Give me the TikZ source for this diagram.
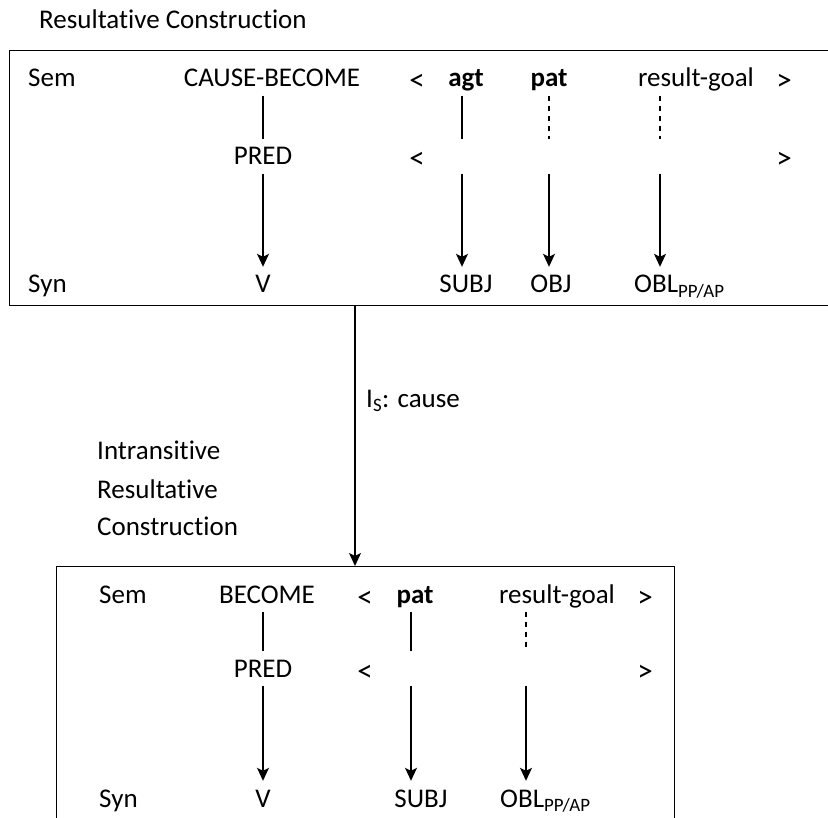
\documentclass[tikz,border=0pt]{standalone}
\usepackage{fontspec}
\setmainfont{Carlito}[Ligatures=NoCommon]
\usepackage{tikz}
\usetikzlibrary{arrows.meta}

\begin{document}
\begin{tikzpicture}[x=1pt,y=-1pt]
	\tikzstyle{every node}=[font=\fontsize{27}{32}\selectfont]
	\tikzstyle{txt}=[anchor=base, inner xsep=1pt, inner ysep=4pt, text height=22pt, text depth=4.5pt]
	\tikzstyle{brk}=[txt, font=\fontsize{31}{36}\selectfont]
	\tikzstyle{box}=[draw, line width=1.4pt, inner sep=0pt, anchor=north west]
	\tikzstyle{link}=[line width=1.3pt]
	\tikzstyle{dsh}=[line width=1.3pt, dash pattern=on 5pt off 5pt]
	\tikzstyle{arr}=[line width=1.3pt, -{Stealth[length=13pt,width=12pt,inset=3pt]}]
	
	\clip (0,0) rectangle (828,818);
	
	\node[txt, anchor=base west] (title) at (38,29) {Resultative Construction};
	
	% upper construction
	\node[box, minimum width=826pt, minimum height=255pt] (box1) at (9,50) {};
	\node[txt, anchor=base west] (sem1) at (27,87) {Sem};
	\node[txt] (cb) at (272,87) {CAUSE-BECOME};
	\node[brk] (lta) at (417,91) {<};
	\node[txt] (agt) at (466,87) {\textbf{agt}};
	\node[txt] (pat1) at (549,87) {\textbf{pat}};
	\node[txt] (rg1) at (696,87) {result-goal};
	\node[brk] (gta) at (784,91) {>};
	
	\node[txt] (pred1) at (263,165) {PRED};
	\node[brk] (ltb) at (417,169) {<};
	\node[txt] (agtp) at (462,165) {};
	\node[txt] (patp) at (549,165) {};
	\node[txt] (rgp) at (660,165) {};
	\node[brk] (gtb) at (784,169) {>};
	
	\node[txt, anchor=base west] (syn1) at (27,293) {Syn};
	\node[txt] (v1) at (263,293) {V};
	\node[txt] (subj1) at (466,293) {SUBJ};
	\node[txt] (obj1) at (551,293) {OBJ};
	\node[txt, anchor=base west] (obl1) at (633,293) {OBL\textsubscript{PP/AP}};
	
	\draw[link] (cb.south -| pred1) -- (pred1);
	\draw[arr] (pred1) -- (v1);
	\draw[link] (agt.south -| agtp) -- (agtp);
	\draw[arr] (agtp) -- (subj1.north -| agtp);
	\draw[dsh] (pat1) -- (patp);
	\draw[arr] (patp) -- (obj1.north -| patp);
	\draw[dsh] (rg1.south -| rgp) -- (rgp);
	\draw[arr] (rgp) -- (obl1.north -| rgp);
	
	% inheritance link
	\coordinate (cx) at (355,0);
	\node[box] (box2) at (56,566) [minimum width=618pt, minimum height=270pt] {};
	\draw[arr] (box1.south -| cx) -- (box2.north -| cx);
	\node[txt, anchor=base west] (cause) at (365,408) {I\textsubscript{S}: cause};
	
	\node[txt, anchor=base west] (intr1) at (96,460) {Intransitive};
	\node[txt, anchor=base west] (intr2) at (96,498) {Resultative};
	\node[txt, anchor=base west] (intr3) at (96,535) {Construction};
	
	% lower construction
	\node[txt, anchor=base west] (sem2) at (98,603) {Sem};
	\node[txt] (bec) at (267,603) {BECOME};
	\node[brk] (ltc) at (365,607) {<};
	\node[txt] (pat2) at (415,603) {\textbf{pat}};
	\node[txt] (rg2) at (557,603) {result-goal};
	\node[brk] (gtc) at (645,607) {>};
	
	\node[txt] (pred2) at (263,677) {PRED};
	\node[brk] (ltd) at (365,681) {<};
	\node[txt] (patq) at (411,677) {};
	\node[txt] (rgq) at (526,677) {};
	\node[brk] (gtd) at (645,681) {>};
	
	\node[txt, anchor=base west] (syn2) at (98,807) {Syn};
	\node[txt] (v2) at (263,807) {V};
	\node[txt] (subj2) at (421,807) {SUBJ};
	\node[txt, anchor=base west] (obl2) at (499,807) {OBL\textsubscript{PP/AP}};
	
	\draw[link] (bec.south -| pred2) -- (pred2);
	\draw[arr] (pred2) -- (v2);
	\draw[link] (pat2.south -| patq) -- (patq);
	\draw[arr] (patq) -- (subj2.north -| patq);
	\draw[dsh] (rg2.south -| rgq) -- (rgq);
	\draw[arr] (rgq) -- (obl2.north -| rgq);
	
\end{tikzpicture}
\end{document}
